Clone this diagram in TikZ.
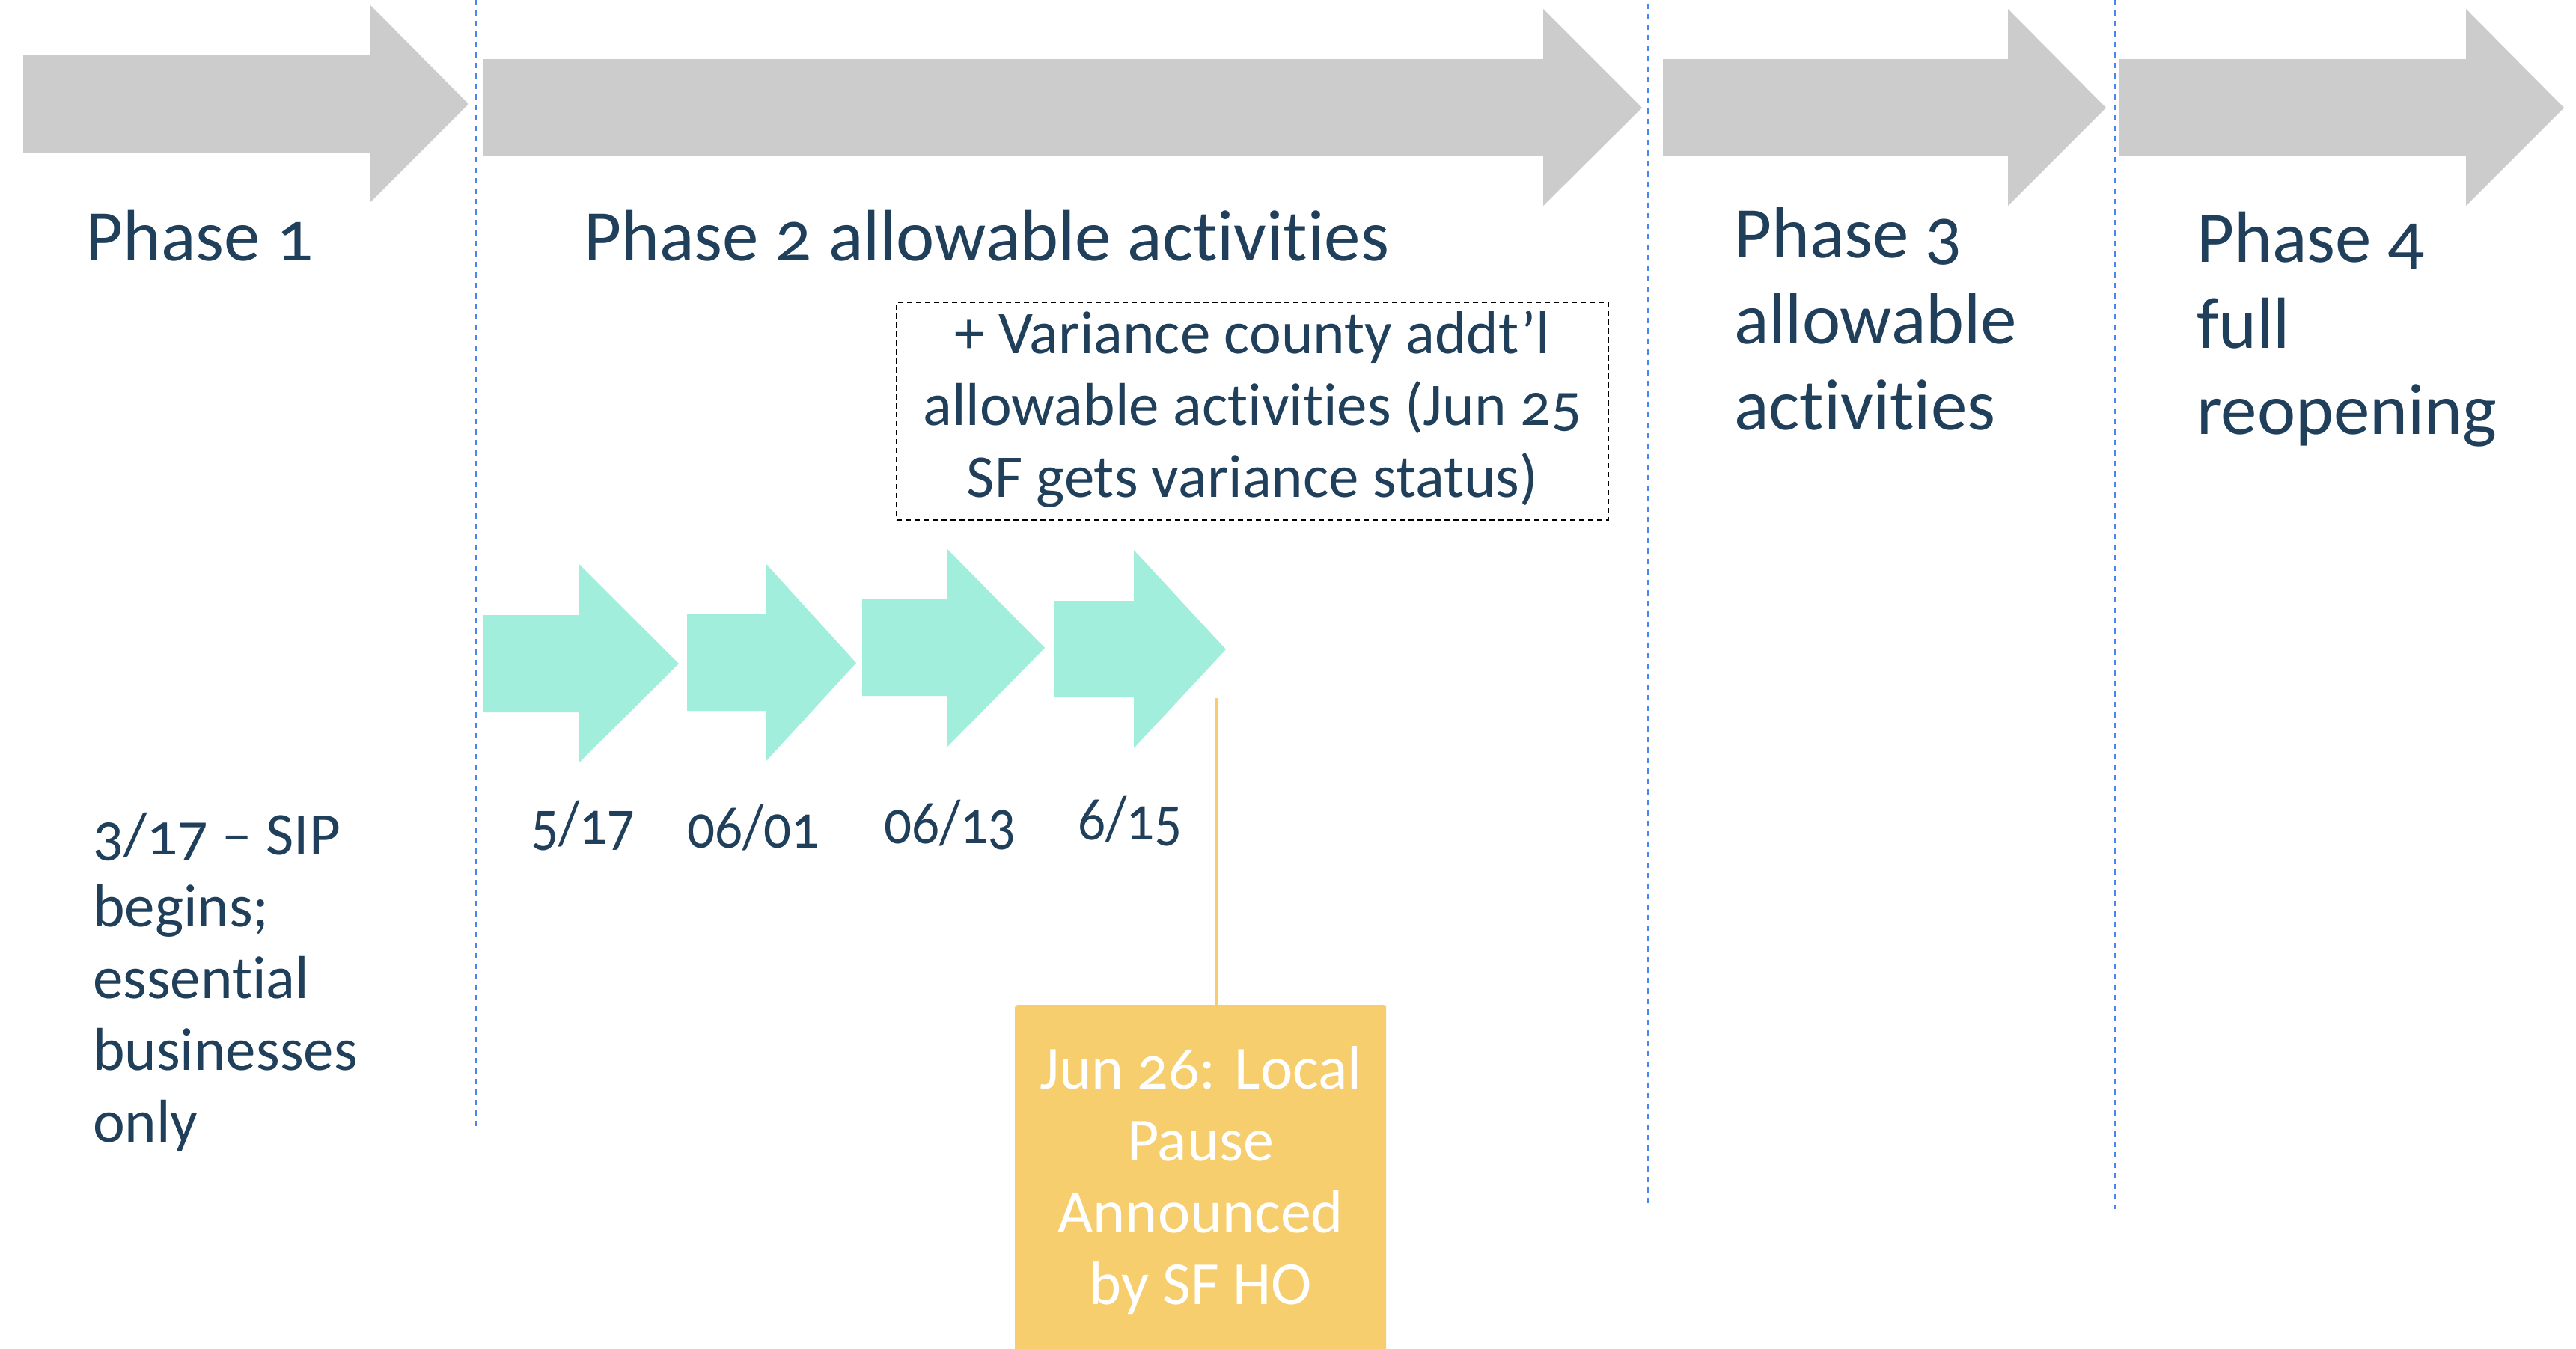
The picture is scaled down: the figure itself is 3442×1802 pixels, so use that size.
\documentclass[tikz,border=0pt]{standalone}
\usepackage{fontspec}
\setmainfont{Carlito}[Numbers=OldStyle,Ligatures=NoCommon]
\newfontfamily\datefont{Carlito}[Numbers=OldStyle,Ligatures=NoCommon,FakeStretch=0.87]
\usepackage{array}
\definecolor{navy}{HTML}{1F3F5B}
\definecolor{arrowgray}{HTML}{CCCCCC}
\definecolor{teal}{HTML}{A2EEDC}
\definecolor{gold}{HTML}{F7CE6E}
\definecolor{divblue}{HTML}{4A86F0}
\newcommand{\mlines}[2]{\begin{tabular}[t]{@{}#1@{}}#2\end{tabular}}
\begin{document}
\begin{tikzpicture}[x=1pt,y=-1pt,
  phasearrow/.style={fill=arrowgray,draw=none},
  steparrow/.style={fill=teal,draw=none},
  divider/.style={draw=divblue,line width=2.5pt,dash pattern=on 7pt off 7pt},
  bigtxt/.style={text=navy,inner sep=0pt,font=\fontsize{97}{115}\selectfont},
  midtxt/.style={text=navy,inner sep=0pt,font=\fontsize{81}{96}\selectfont},
  datetxt/.style={text=navy,inner sep=0pt,font=\datefont\fontsize{84}{96}\selectfont},
  varbox/.style={draw=black,line width=2pt,dash pattern=on 7pt off 5pt,inner sep=0pt,
     text=navy,font=\fontsize{81}{96}\selectfont},
  pausebox/.style={fill=gold,rounded corners=3pt,inner sep=0pt,text=white,
     font=\fontsize{82}{96}\selectfont},
  goldline/.style={draw=gold,line width=4pt}]
\useasboundingbox (0,0) rectangle (3442,1802);
\fill[white] (0,0) rectangle (3442,1802);
% gray phase arrows
\fill[phasearrow] (31,74) -- (494,74) -- (494,6) -- (626,139) -- (494,271) -- (494,204) -- (31,204) -- cycle;
\fill[phasearrow] (645,79) -- (2062,79) -- (2062,12) -- (2194,144) -- (2062,275) -- (2062,208) -- (645,208) -- cycle;
\fill[phasearrow] (2222,79) -- (2683,79) -- (2683,12) -- (2814,144) -- (2683,275) -- (2683,208) -- (2222,208) -- cycle;
\fill[phasearrow] (2832,79) -- (3295,79) -- (3295,12) -- (3426,144) -- (3295,275) -- (3295,208) -- (2832,208) -- cycle;
% dividers
\coordinate (d1a) at (636,0);    \coordinate (d1b) at (636,1507);
\coordinate (d2a) at (2202,5);   \coordinate (d2b) at (2202,1614);
\coordinate (d3a) at (2826,0);   \coordinate (d3b) at (2826,1616);
\draw[divider] (d1a) -- (d1b);
\draw[divider] (d2a) -- (d2b);
\draw[divider] (d3a) -- (d3b);
% teal step arrows
\fill[steparrow] (646,822) -- (774,822) -- (774,754) -- (907,887) -- (774,1019) -- (774,952) -- (646,952) -- cycle;
\fill[steparrow] (918,821) -- (1023,821) -- (1023,753) -- (1144,886) -- (1023,1018) -- (1023,950) -- (918,950) -- cycle;
\fill[steparrow] (1152,801) -- (1266,801) -- (1266,734) -- (1396,866) -- (1266,998) -- (1266,930) -- (1152,930) -- cycle;
\fill[steparrow] (1408,803) -- (1515,803) -- (1515,735) -- (1638,868) -- (1515,1000) -- (1515,932) -- (1408,932) -- cycle;
% phase titles
\node[bigtxt,anchor=base west] (p1) at (114,348) {Phase 1};
\node[bigtxt,anchor=base west] (p2) at (780,348) {Phase 2 allowable activities};
\node[bigtxt,anchor=base west] (p3) at (2317,344) {\mlines{l}{Phase 3\\allowable\\activities}};
\node[bigtxt,anchor=base west] (p4) at (2935,350) {\mlines{l}{Phase 4\\full\\reopening}};
% variance box
\node[varbox,minimum width=951pt,minimum height=291pt,anchor=north west] (var) at (1197,403)
  {\mlines{c}{+ Variance county addt’l\\allowable activities (Jun 25\\SF gets variance status)}};
% left text
\node[midtxt,anchor=base west] (sip) at (124,1142) {\mlines{l}{3/17 – SIP\\begins;\\essential\\businesses\\only}};
% dates
\node[datetxt,anchor=base west] (t1) at (709,1128) {5/17};
\node[datetxt,anchor=base west] (t2) at (918,1133) {06/01};
\node[datetxt,anchor=base west] (t3) at (1181,1127) {06/13};
\node[datetxt,anchor=base west] (t4) at (1440,1122) {6/15};
% pause box
\node[pausebox,minimum width=496pt,minimum height=474pt,anchor=north west] (pause) at (1356,1343)
  {\mlines{c}{Jun 26: Local\\Pause\\Announced\\by SF HO}};
\coordinate (pausetop) at (1626,933);
\draw[goldline] (pausetop) -- (pausetop |- pause.north);
\end{tikzpicture}
\end{document}
